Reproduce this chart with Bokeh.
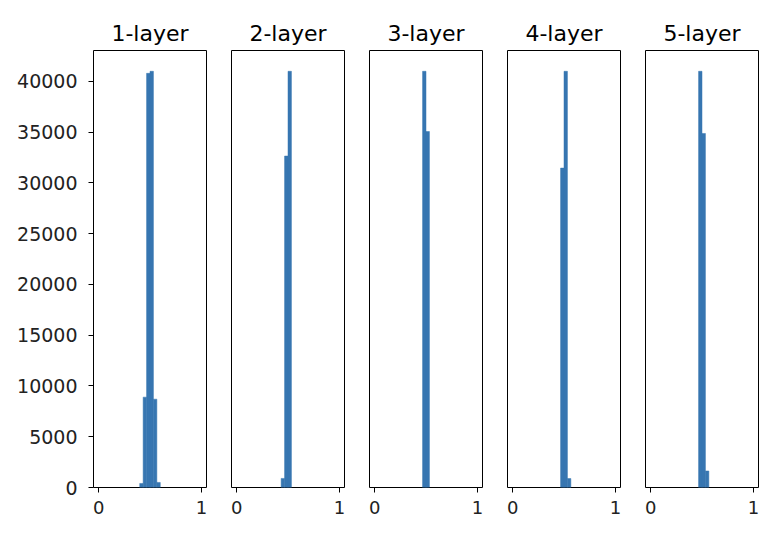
from bokeh.plotting import figure
from bokeh.layouts import row
from bokeh.models import FixedTicker, Range1d
from bokeh.embed import file_html
from bokeh.resources import INLINE

# Histogram of activations: 30 bins over [0, 1]; only non-empty bins listed
n_bins = 30
titles = ["1-layer", "2-layer", "3-layer", "4-layer", "5-layer"]
layer1_bins = [12, 13, 14, 15, 16, 17]
layer1_counts = [400, 8900, 40800, 41000, 8700, 500]
layer2_bins = [13, 14, 15]
layer2_counts = [1200, 43800, 55000]
layer3_bins = [14, 15]
layer3_counts = [53900, 46100]
layer4_bins = [14, 15, 16]
layer4_counts = [42900, 55900, 1200]
layer5_bins = [14, 15, 16]
layer5_counts = [52900, 45000, 2100]
x_ticks = [0, 1]
y_ticks = [0, 5000, 10000, 15000, 20000, 25000, 30000, 35000, 40000]

all_bins = [layer1_bins, layer2_bins, layer3_bins, layer4_bins, layer5_bins]
all_counts = [layer1_counts, layer2_counts, layer3_counts, layer4_counts, layer5_counts]

BAR = "#3776b1"
FONT = "DejaVu Sans"
figs = []
for i in range(5):
    left_b = 93 if i == 0 else 13
    right_b = 10 if i == 4 else 12
    ymax = max(all_counts[i]) * 1.05
    p = figure(frame_width=113, frame_height=437,
               width=left_b + 113 + right_b, height=528,
               min_border_left=left_b, min_border_right=right_b,
               min_border_top=50, min_border_bottom=41,
               x_range=Range1d(-0.05, 1.05), y_range=Range1d(0, ymax),
               output_backend="svg", toolbar_location=None, title=titles[i])
    lefts = [b / n_bins for b in all_bins[i]]
    rights = [(b + 1) / n_bins for b in all_bins[i]]
    p.quad(left=lefts, right=rights, bottom=0, top=all_counts[i],
           fill_color=BAR, line_color=BAR, line_width=0.5)
    p.grid.visible = False
    p.outline_line_color = "black"
    p.outline_line_width = 1
    p.background_fill_color = "white"
    p.border_fill_color = "white"
    p.title.align = "center"
    p.title.text_font = FONT
    p.title.text_font_size = "22px"
    p.title.text_font_style = "normal"
    p.title.text_color = "black"
    p.title.standoff = 10
    p.xaxis.ticker = FixedTicker(ticks=x_ticks)
    p.xaxis.axis_line_color = None
    p.xaxis.major_tick_in = 0
    p.xaxis.major_tick_out = 5
    p.xaxis.minor_tick_line_color = None
    p.xaxis.major_label_text_font = FONT
    p.xaxis.major_label_text_font_size = "18px"
    p.xaxis.major_label_text_color = "#222222"
    p.xaxis.major_label_standoff = 8
    if i == 0:
        p.yaxis.ticker = FixedTicker(ticks=y_ticks)
        p.yaxis.axis_line_color = None
        p.yaxis.major_tick_in = 0
        p.yaxis.major_tick_out = 5
        p.yaxis.minor_tick_line_color = None
        p.yaxis.major_label_text_font = FONT
        p.yaxis.major_label_text_font_size = "19px"
        p.yaxis.major_label_text_color = "#222222"
        p.yaxis.major_label_standoff = 11
        p.yaxis.major_label_orientation = "horizontal"
    else:
        p.yaxis.visible = False
    figs.append(p)

layout = row(*figs, spacing=0)
open("out.html", "w").write(file_html(layout, INLINE))
